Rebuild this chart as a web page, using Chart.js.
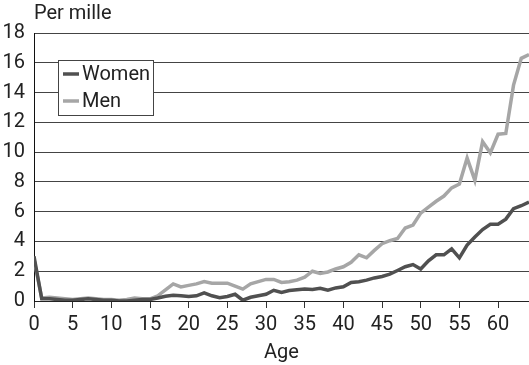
<!DOCTYPE html>
<html>
<head>
<meta charset="utf-8">
<script src="https://cdn.jsdelivr.net/npm/chart.js@4/dist/chart.umd.min.js"></script>
<style>
  html, body { margin: 0; padding: 0; background: #ffffff; }
  #wrap { position: relative; width: 529px; height: 365px; }
</style>
</head>
<body>
<div id="wrap"><canvas id="c" width="529" height="365"></canvas></div>
<script>
const ages = [0,1,2,3,4,5,6,7,8,9,10,11,12,13,14,15,16,17,18,19,20,21,22,23,24,25,26,27,28,29,30,31,32,33,34,35,36,37,38,39,40,41,42,43,44,45,46,47,48,49,50,51,52,53,54,55,56,57,58,59,60,61,62,63,64];
const women = [3.0,0.15,0.15,0.1,0.05,0.05,0.1,0.15,0.1,0.05,0.05,0.0,0.0,0.05,0.1,0.1,0.2,0.32,0.38,0.35,0.3,0.35,0.55,0.35,0.22,0.3,0.45,0.05,0.25,0.35,0.45,0.72,0.58,0.7,0.75,0.8,0.78,0.85,0.72,0.88,0.95,1.25,1.3,1.4,1.55,1.65,1.8,2.05,2.3,2.45,2.15,2.7,3.1,3.1,3.5,2.9,3.75,4.3,4.8,5.15,5.15,5.5,6.2,6.4,6.65];
const men = [2.8,0.2,0.25,0.2,0.15,0.1,0.15,0.2,0.15,0.1,0.1,0.05,0.1,0.2,0.15,0.15,0.35,0.75,1.15,0.95,1.05,1.15,1.3,1.2,1.2,1.2,1.0,0.8,1.15,1.3,1.45,1.45,1.25,1.3,1.4,1.6,2.0,1.85,1.95,2.15,2.3,2.6,3.1,2.9,3.4,3.85,4.05,4.2,4.9,5.1,5.9,6.3,6.7,7.05,7.6,7.85,9.6,8.1,10.7,9.95,11.2,11.25,14.5,16.3,16.55];
const xTickValues = [0,5,10,15,20,25,30,35,40,45,50,55,60];
const seriesLabels = ["Women", "Men"];
const xTitle = "Age";
const yTitle = "Per mille";

const FONT = "Roboto, 'Liberation Sans', sans-serif";
const FS = 20;
const TEXT = "#222222";

const toPts = (arr) => ages.map((a, i) => ({ x: a, y: arr[i] }));

const extras = {
  id: 'extras',
  afterDraw(chart) {
    const ctx = chart.ctx;
    const area = chart.chartArea;
    ctx.save();
    ctx.fillStyle = TEXT;
    ctx.font = FS + "px " + FONT;
    ctx.textAlign = 'left';
    ctx.textBaseline = 'middle';
    ctx.fillText(yTitle, area.left, 14);
    const bx = 58, by = 60, bw = 95, bh = 55;
    ctx.fillStyle = '#ffffff';
    ctx.fillRect(bx, by, bw, bh);
    ctx.strokeStyle = '#444444';
    ctx.lineWidth = 1;
    ctx.strokeRect(bx + 0.5, by + 0.5, bw, bh);
    chart.data.datasets.forEach((ds, i) => {
      const cy = by + 14 + i * 27;
      ctx.strokeStyle = ds.borderColor;
      ctx.lineWidth = 3.5;
      ctx.beginPath();
      ctx.moveTo(bx + 5, cy);
      ctx.lineTo(bx + 21, cy);
      ctx.stroke();
      ctx.fillStyle = TEXT;
      ctx.font = FS + "px " + FONT;
      ctx.textAlign = 'left';
      ctx.textBaseline = 'middle';
      ctx.fillText(ds.label, bx + 24, cy + 1);
    });
    ctx.restore();
  }
};

new Chart(document.getElementById('c'), {
  type: 'line',
  data: {
    datasets: [
      { label: seriesLabels[0], data: toPts(women), borderColor: '#505050', borderWidth: 3.5, pointRadius: 0, tension: 0, fill: false },
      { label: seriesLabels[1], data: toPts(men), borderColor: '#a6a6a6', borderWidth: 3.5, pointRadius: 0, tension: 0, fill: false }
    ]
  },
  options: {
    responsive: false,
    animation: false,
    layout: { padding: { top: 33, right: 0, left: 0, bottom: 0 } },
    plugins: { legend: { display: false }, tooltip: { enabled: false }, title: { display: false } },
    scales: {
      x: {
        type: 'linear', min: 0, max: 64,
        afterFit(s) { s.height = 64; },
        afterBuildTicks(s) { s.ticks = xTickValues.map(v => ({ value: v })); },
        ticks: { color: TEXT, font: { family: FONT, size: FS }, padding: 5, maxRotation: 0, autoSkip: false },
        grid: { display: true, drawOnChartArea: false, drawTicks: true, tickLength: 7, color: '#333333' },
        border: { display: true, color: '#222222', width: 1 },
        title: { display: true, text: xTitle, color: TEXT, font: { family: FONT, size: FS }, padding: { top: 10, bottom: 0 } }
      },
      y: {
        min: 0, max: 18,
        afterFit(s) { s.width = 34; },
        ticks: { stepSize: 2, color: TEXT, font: { family: FONT, size: FS }, padding: 9 },
        grid: { color: '#444444', lineWidth: 1, drawTicks: false },
        border: { display: true, color: '#111111', width: 1 }
      }
    }
  },
  plugins: [extras]
});
</script>
</body>
</html>
